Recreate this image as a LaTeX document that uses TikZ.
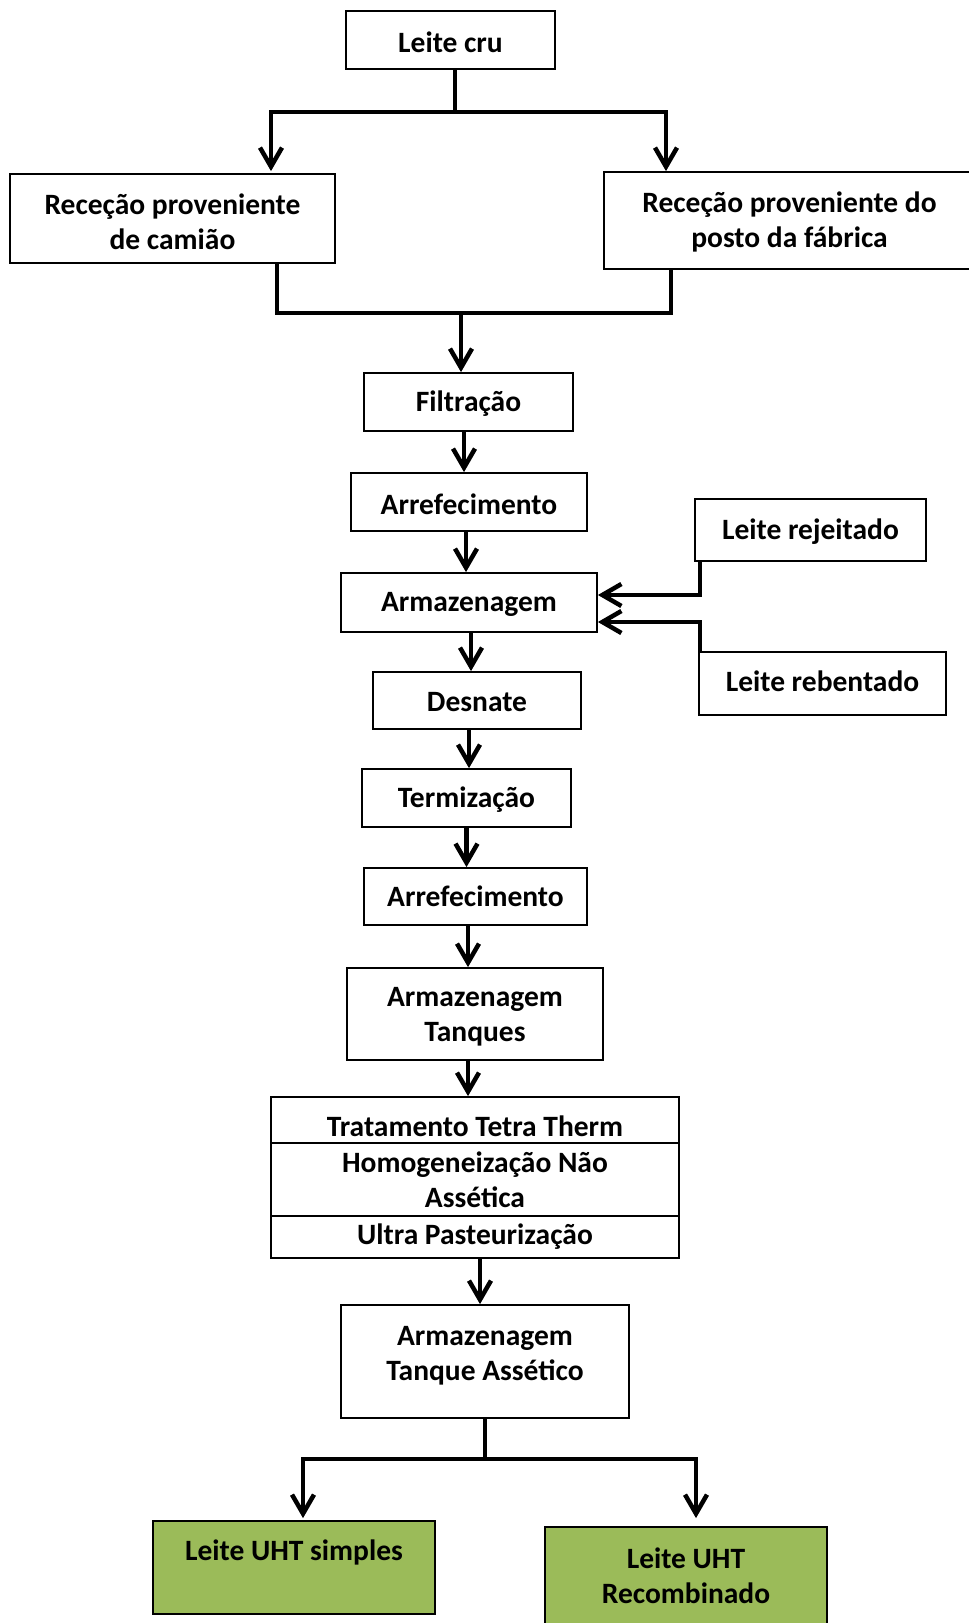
\documentclass[tikz,border=0pt]{standalone}
\usepackage{fontspec}
\setmainfont{Carlito}
\usetikzlibrary{arrows.meta}
\definecolor{uhtgreen}{HTML}{9BBB59}
\newcommand{\lowtxt}[2]{\raisebox{-#1pt}[\height][\depth]{#2}}
\begin{document}
\begin{tikzpicture}[x=1pt,y=-1pt,
  box/.style={draw=black, line width=1.8pt, fill=white, align=center,
    font=\fontsize{29.5}{35}\selectfont\bfseries, inner sep=0pt},
  gbox/.style={box, fill=uhtgreen},
  conn/.style={line width=4.5pt},
  arr/.style={conn, -{Straight Barb[length=19pt,width=22pt]}},
  lbl/.style={font=\fontsize{29.5}{35}\selectfont\bfseries, align=center, inner sep=0pt}
]
\useasboundingbox (0,0) rectangle (969,1623);
% nodes
\node[box, minimum width=209, minimum height=58] (lc) at (450.5,40) {\lowtxt{2}{Leite cru}};
\node[box, minimum width=325, minimum height=89] (rl) at (172.5,218.5) {\lowtxt{3}{Receção proveniente}\\\lowtxt{3}{de camião}};
\node[box, minimum width=371, minimum height=97] (rr) at (789.5,220.5) {\lowtxt{1}{Receção proveniente do}\\\lowtxt{1}{posto da fábrica}};
\node[box, minimum width=209, minimum height=58] (fil) at (468.5,402) {\lowtxt{2}{Filtração}};
\node[box, minimum width=236, minimum height=58] (arr1) at (469,502) {\lowtxt{2}{Arrefecimento}};
\node[box, minimum width=256, minimum height=59] (arm) at (469,602.5) {\lowtxt{2}{Armazenagem}};
\node[box, minimum width=231, minimum height=62] (rej) at (810.5,530) {\lowtxt{2}{Leite rejeitado}};
\node[box, minimum width=247, minimum height=63] (reb) at (822.5,683.5) {\lowtxt{-2}{Leite rebentado}};
\node[box, minimum width=208, minimum height=57] (des) at (477,700.5) {\lowtxt{2}{Desnate}};
\node[box, minimum width=209, minimum height=58] (ter) at (466.5,798) {\lowtxt{2}{Termização}};
\node[box, minimum width=223, minimum height=57] (arr2) at (475.5,896.5) {Arrefecimento};
\node[box, minimum width=256, minimum height=92] (armt) at (475,1014) {\lowtxt{3}{Armazenagem}\\\lowtxt{3}{Tanques}};
\node[box, minimum width=408, minimum height=46] (t1) at (475,1120) {\lowtxt{6}{Tratamento Tetra Therm}};
\node[box, minimum width=408, minimum height=73] (t2) at (475,1179.5) {Homogeneização Não\\Assética};
\node[box, minimum width=408, minimum height=42] (t3) at (475,1237) {Ultra Pasteurização};
\node[box, minimum width=288, minimum height=113,
  label={[lbl, yshift=6pt]center:Armazenagem\\Tanque Assético}] (ata) at (485,1361.5) {};
\node[gbox, minimum width=282, minimum height=93,
  label={[lbl, yshift=15pt]center:Leite UHT simples}] (g1) at (294,1567.5) {};
\node[gbox, minimum width=282, minimum height=97] (g2) at (686,1575.5) {Leite UHT\\Recombinado};
% junction coordinates
\coordinate (j0) at (455,112);
\coordinate (jl) at (271,112);
\coordinate (jr) at (666,112);
\coordinate (ml) at (277,313);
\coordinate (mr) at (671,313);
\coordinate (m0) at (461,313);
\coordinate (q1) at (700,595);
\coordinate (q2) at (700,622);
\coordinate (k0) at (485,1459);
\coordinate (kl) at (303,1459);
\coordinate (kr) at (696,1459);
% connectors
\draw[conn] (lc.south -| j0) -- (j0);
\draw[arr] (j0) -| ([yshift=2pt]rl.north -| jl);
\draw[arr] (j0) -| (rr.north -| jr);
\draw[conn] (rl.south -| ml) |- (mr) -- (rr.south -| mr);
\draw[arr] (m0) -- (fil.north -| m0);
\draw[arr] ([xshift=-4.5pt]fil.south) -- ([xshift=-4.5pt]fil.south |- arr1.north);
\draw[arr] ([xshift=-3pt]arr1.south) -- ([xshift=-3pt]arr1.south |- arm.north);
\draw[arr] (rej.south -| q1) |- (arm.east |- q1);
\draw[arr] (reb.north -| q2) |- (arm.east |- q2);
\draw[arr] ([xshift=2pt]arm.south) -- ([xshift=2pt]arm.south |- des.north);
\draw[arr] ([xshift=-8pt]des.south) -- ([xshift=-8pt]des.south |- ter.north);
\draw[arr] (ter.south) -- (ter.south |- arr2.north);
\draw[arr] ([xshift=-7.5pt]arr2.south) -- ([xshift=-7.5pt]arr2.south |- armt.north);
\draw[arr] ([xshift=-7pt]armt.south) -- ([xshift=-7pt]armt.south |- t1.north);
\draw[arr] ([xshift=5pt]t3.south) -- ([xshift=5pt]t3.south |- ata.north);
\draw[conn] (ata.south) -- (k0);
\draw[arr] (k0) -| ([yshift=2pt]g1.north -| kl);
\draw[arr] (k0) -| ([yshift=2pt]g1.north -| kr);
\end{tikzpicture}
\end{document}
